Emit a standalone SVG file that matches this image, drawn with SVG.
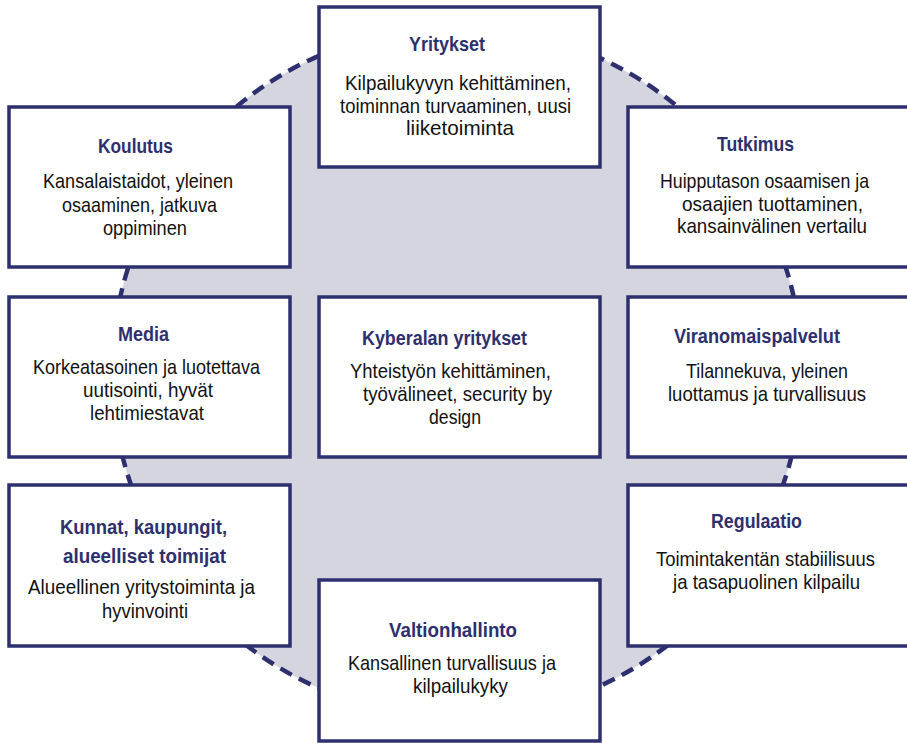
<svg xmlns="http://www.w3.org/2000/svg" width="907" height="743" viewBox="0 0 907 743">
<style>
.box{fill:#ffffff;stroke:#2d2f6e;stroke-width:3.5}
.t{font-family:"Liberation Sans Narrow","Liberation Sans",Arial,sans-serif;font-weight:bold;font-size:20px;fill:#2d2f6e}
.b{font-family:"Liberation Sans Narrow","Liberation Sans",Arial,sans-serif;font-size:21px;fill:#111111}
</style>
<rect width="907" height="743" fill="#ffffff"/>
<g id="background-circle">
<circle cx="457" cy="372" r="345" fill="#d5d5df" stroke="#2d2f6e" stroke-width="4.5" stroke-dasharray="13 8"/>
</g>
<g id="connectors"></g>
<g id="yritykset">
<rect class="box" x="319" y="7" width="281" height="160"/>
<text class="t" x="409" y="51" textLength="76" lengthAdjust="spacingAndGlyphs">Yritykset</text>
<text class="b" x="345" y="90" textLength="226" lengthAdjust="spacingAndGlyphs">Kilpailukyvyn kehittäminen,</text>
<text class="b" x="340" y="112.5" textLength="231" lengthAdjust="spacingAndGlyphs">toiminnan turvaaminen, uusi</text>
<text class="b" x="406" y="135" textLength="108" lengthAdjust="spacingAndGlyphs">liiketoiminta</text>
</g>
<g id="koulutus">
<rect class="box" x="9" y="107" width="281" height="160"/>
<text class="t" x="98" y="153" textLength="75" lengthAdjust="spacingAndGlyphs">Koulutus</text>
<text class="b" x="43" y="188" textLength="190" lengthAdjust="spacingAndGlyphs">Kansalaistaidot, yleinen</text>
<text class="b" x="62" y="211.5" textLength="155" lengthAdjust="spacingAndGlyphs">osaaminen, jatkuva</text>
<text class="b" x="103" y="235" textLength="84" lengthAdjust="spacingAndGlyphs">oppiminen</text>
</g>
<g id="tutkimus">
<rect class="box" x="628" y="107" width="282" height="160"/>
<text class="t" x="717" y="151" textLength="77" lengthAdjust="spacingAndGlyphs">Tutkimus</text>
<text class="b" x="660" y="188" textLength="209" lengthAdjust="spacingAndGlyphs">Huipputason osaamisen ja</text>
<text class="b" x="682" y="210.5" textLength="181" lengthAdjust="spacingAndGlyphs">osaajien tuottaminen,</text>
<text class="b" x="677" y="233" textLength="190" lengthAdjust="spacingAndGlyphs">kansainvälinen vertailu</text>
</g>
<g id="media">
<rect class="box" x="9" y="297" width="281" height="160"/>
<text class="t" x="118" y="341" textLength="51" lengthAdjust="spacingAndGlyphs">Media</text>
<text class="b" x="33" y="374" textLength="227" lengthAdjust="spacingAndGlyphs">Korkeatasoinen ja luotettava</text>
<text class="b" x="83" y="397" textLength="130" lengthAdjust="spacingAndGlyphs">uutisointi, hyvät</text>
<text class="b" x="90" y="420" textLength="114" lengthAdjust="spacingAndGlyphs">lehtimiestavat</text>
</g>
<g id="kyberalan-yritykset">
<rect class="box" x="319" y="297" width="281" height="160"/>
<text class="t" x="362" y="345" textLength="165" lengthAdjust="spacingAndGlyphs">Kyberalan yritykset</text>
<text class="b" x="350" y="377.5" textLength="201" lengthAdjust="spacingAndGlyphs">Yhteistyön kehittäminen,</text>
<text class="b" x="363" y="400.5" textLength="189" lengthAdjust="spacingAndGlyphs">työvälineet, security  by</text>
<text class="b" x="429" y="423.5" textLength="52" lengthAdjust="spacingAndGlyphs">design</text>
</g>
<g id="viranomaispalvelut">
<rect class="box" x="628" y="297" width="282" height="160"/>
<text class="t" x="674" y="343" textLength="166" lengthAdjust="spacingAndGlyphs">Viranomaispalvelut</text>
<text class="b" x="686" y="377.5" textLength="162" lengthAdjust="spacingAndGlyphs">Tilannekuva, yleinen</text>
<text class="b" x="668" y="401" textLength="198" lengthAdjust="spacingAndGlyphs">luottamus ja turvallisuus</text>
</g>
<g id="kunnat">
<rect class="box" x="9" y="485" width="281" height="161"/>
<text class="t" x="60" y="534" textLength="167" lengthAdjust="spacingAndGlyphs">Kunnat, kaupungit,</text>
<text class="t" x="63" y="563" textLength="163" lengthAdjust="spacingAndGlyphs">alueelliset toimijat</text>
<text class="b" x="28" y="594" textLength="227" lengthAdjust="spacingAndGlyphs">Alueellinen yritystoiminta ja</text>
<text class="b" x="102" y="618" textLength="86" lengthAdjust="spacingAndGlyphs">hyvinvointi</text>
</g>
<g id="regulaatio">
<rect class="box" x="628" y="485" width="282" height="161"/>
<text class="t" x="711" y="528" textLength="91" lengthAdjust="spacingAndGlyphs">Regulaatio</text>
<text class="b" x="656" y="566" textLength="219" lengthAdjust="spacingAndGlyphs">Toimintakentän stabiilisuus</text>
<text class="b" x="673" y="589" textLength="187" lengthAdjust="spacingAndGlyphs">ja tasapuolinen kilpailu</text>
</g>
<g id="valtionhallinto">
<rect class="box" x="319" y="580" width="281" height="161"/>
<text class="t" x="389" y="637" textLength="128" lengthAdjust="spacingAndGlyphs">Valtionhallinto</text>
<text class="b" x="348" y="670" textLength="208" lengthAdjust="spacingAndGlyphs">Kansallinen turvallisuus ja</text>
<text class="b" x="413" y="692.5" textLength="95" lengthAdjust="spacingAndGlyphs">kilpailukyky</text>
</g>
</svg>
